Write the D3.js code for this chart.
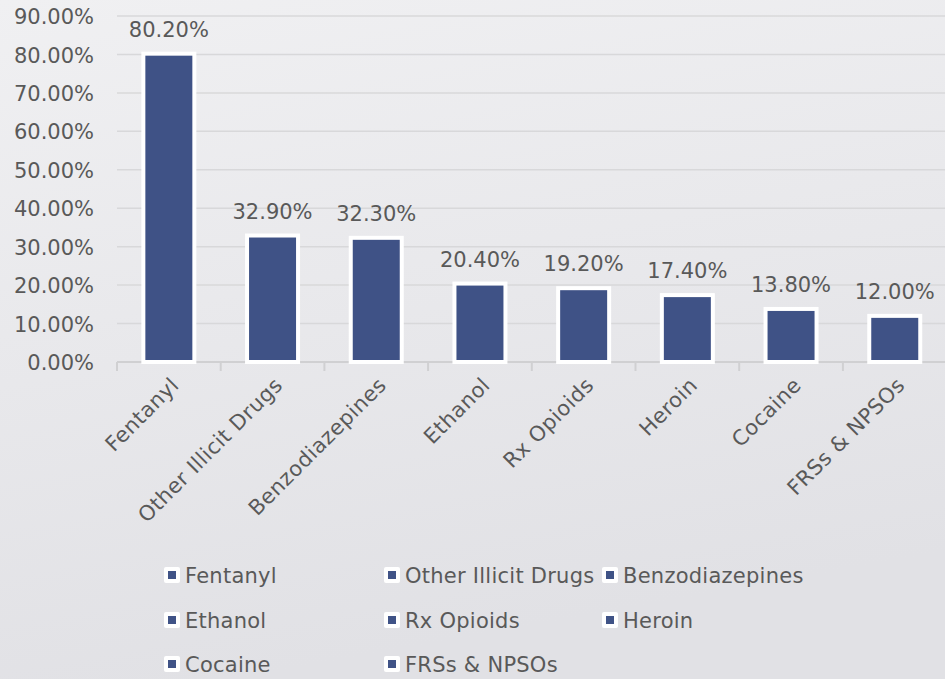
<!DOCTYPE html>
<html><head><meta charset="utf-8">
<script src="https://cdn.jsdelivr.net/npm/d3@7"></script>
<style>
html,body{margin:0;padding:0;overflow:hidden;}
svg{display:block;}
text{font-family:"DejaVu Sans",sans-serif;fill:#595959;}
</style></head>
<body>
<svg id="chart" width="945" height="679"></svg>
<script>
const categories = ["Fentanyl","Other Illicit Drugs","Benzodiazepines","Ethanol","Rx Opioids","Heroin","Cocaine","FRSs & NPSOs"];
const values = [80.2, 32.9, 32.3, 20.4, 19.2, 17.4, 13.8, 12.0];
const yTicks = [0,10,20,30,40,50,60,70,80,90];
const barColor = "#3f5286";

const svg = d3.select("#chart");
const W = 945, H = 679;
const FS = "21px";
const defs = svg.append("defs");
const grad = defs.append("linearGradient").attr("id","bg").attr("x1","0").attr("y1","0").attr("x2","0.25").attr("y2","1");
grad.append("stop").attr("offset","0").attr("stop-color","#f0f0f2");
grad.append("stop").attr("offset","1").attr("stop-color","#e1e1e5");
svg.append("rect").attr("width",W).attr("height",H).attr("fill","url(#bg)");

const x = d3.scaleBand().domain(categories).range([117, 946.6]).paddingInner(0).paddingOuter(0);
const y = d3.scaleLinear().domain([0,90]).range([362, 16]);

// gridlines
svg.append("g").selectAll("line").data(yTicks.filter(d=>d>0)).join("line")
  .attr("x1",117).attr("x2",946).attr("y1",d=>y(d)).attr("y2",d=>y(d))
  .attr("stroke","#d8d8da").attr("stroke-width",1.5);

// y axis labels
const yAxis = d3.axisLeft(y).tickValues(yTicks).tickFormat(d=>d3.format(".2f")(d)+"%").tickSize(0).tickPadding(0);
const gy = svg.append("g").attr("transform","translate(94,0)").call(yAxis);
gy.select(".domain").remove();
gy.selectAll("text").attr("font-size",FS).attr("fill","#595959").style("font-family","'DejaVu Sans',sans-serif").attr("dy","0.36em");

// x axis baseline and ticks
svg.append("line").attr("x1",117).attr("x2",946).attr("y1",y(0)).attr("y2",y(0)).attr("stroke","#d0d0d2").attr("stroke-width",2);
const bounds = categories.map(c=>x(c)).concat([x.range()[1]]);
svg.append("g").selectAll("line").data(bounds).join("line")
  .attr("x1",d=>d).attr("x2",d=>d).attr("y1",y(0)).attr("y2",y(0)+9)
  .attr("stroke","#d0d0d2").attr("stroke-width",2);

// bars
const bw = 51;
svg.append("g").selectAll("rect").data(values).join("rect")
  .attr("x",(d,i)=>x(categories[i])+x.bandwidth()/2-bw/2)
  .attr("y",d=>y(d)).attr("width",bw).attr("height",d=>y(0)-y(d))
  .attr("fill",barColor).attr("stroke","#ffffff").attr("stroke-width",4);

// data labels
svg.append("g").selectAll("text").data(values).join("text")
  .attr("x",(d,i)=>x(categories[i])+x.bandwidth()/2)
  .attr("y",d=>y(d)-17)
  .attr("text-anchor","middle").attr("font-size",FS)
  .text(d=>d3.format(".2f")(d)+"%");

// x labels rotated
svg.append("g").selectAll("text").data(categories).join("text")
  .attr("transform",d=>`translate(${x(d)+x.bandwidth()/2+1},${y(0)+14}) rotate(-45)`)
  .attr("text-anchor","end").attr("dy","0.7em").attr("font-size",FS)
  .attr("letter-spacing","0.5px")
  .text(d=>d);

// legend
const colX = [164, 384, 602];
const rowY = [575, 620, 664];
const lg = svg.append("g").selectAll("g").data(categories).join("g")
  .attr("transform",(d,i)=>`translate(${colX[i%3]},${rowY[Math.floor(i/3)]})`);
lg.append("rect").attr("x",0).attr("y",-8).attr("width",16).attr("height",16).attr("rx",2).attr("fill","#ffffff");
lg.append("rect").attr("x",4).attr("y",-4).attr("width",8).attr("height",8).attr("fill",barColor);
lg.append("text").attr("x",21).attr("y",0).attr("dy","0.36em").attr("font-size",FS).attr("letter-spacing","0.25px").text(d=>d);
</script>
</body></html>
